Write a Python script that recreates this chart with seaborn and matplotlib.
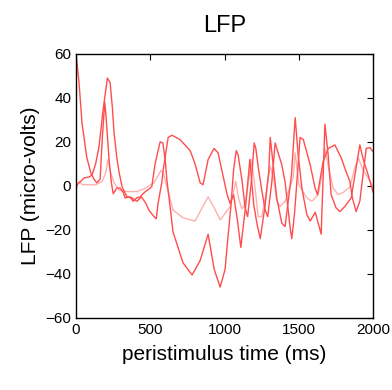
import pandas as pd
import matplotlib
matplotlib.use("Agg")
import matplotlib.pyplot as plt
import seaborn as sns

# trial 1 (starts high at stimulus onset)
t_a = [0, 20, 40, 72, 99, 121, 139, 162, 177, 193, 202, 222, 238, 250, 274, 296,
       318, 330, 363, 384, 409, 431, 460, 500, 510, 532, 566, 584, 600, 611, 653,
       720, 781, 835, 889, 930, 970, 1003, 1023, 1044, 1060, 1078, 1091, 1118,
       1138, 1155, 1180, 1199, 1210, 1226, 1250, 1273, 1290, 1318, 1340, 1385,
       1407, 1441, 1452, 1470, 1490, 1508, 1530, 1576, 1609, 1625, 1663, 1697,
       1742, 1785, 1809, 1843, 1860, 1885, 1910, 1953, 1977, 2000]
lfp_a = [60, 47, 28.6, 13, 6, 3, 1.4, 3, 22, 38, 31.5, 12, 1.4, -3.6, -1, -1,
         -3, -5.5, -5, -7, -5.5, -5, -3, -1, -0.3, 10, 20, 19.5, 12, 3, -21,
         -35, -40.5, -34, -22, -38, -46, -38, -23, -8, 7, 16, 14, 2,
         -10, -14, 2, 19.5, 17, 8.6, -2, -11, -14, 2, 19.5, 9.5,
         1.8, -19, -24, -13, 5, 22, 21, 9.5, -1, -4, 11, 17,
         18.6, 12.7, 8, 2, -5.5, -11.7, -7, 17, 17.4, 15.5]

# trial 2
t_b = [0, 7, 31, 54, 88, 108, 132, 155, 182, 211, 229, 244, 256, 274, 290, 310,
       343, 377, 410, 440, 470, 490, 525, 540, 552, 577, 586, 620, 646, 700,
       768, 801, 835, 855, 889, 929, 956, 983, 1017, 1037, 1060, 1085, 1109,
       1140, 1170, 1196, 1219, 1240, 1273, 1297, 1307, 1351, 1385, 1407, 1450,
       1475, 1495, 1520, 1553, 1576, 1610, 1650, 1675, 1697, 1717, 1750, 1776,
       1809, 1852, 1910, 1933, 1966, 2000]
lfp_b = [-2, 0.5, 2, 3.6, 4, 5, 10, 18, 34.5, 49, 47, 36, 24, 13, 6, -0.5,
         -5, -5.5, -7, -5, -8, -11, -14, -15, -8, 1.4, 7, 22, 23, 21,
         16, 10, 1.4, 0.5, 12, 17, 15, 6.5, -4, -8, -4, -15, -28,
         -10, 12, -8.6, -17.7, -24, -8.6, 6.5, 22, -5.5, -17, -18.5, 5,
         31, 14, -1, -13, -16, -12, -22, 28, 14, -4, -10, -11.7,
         -9.4, -5.5, 18.6, 12, 5, -3]

# average (light trace)
t_c = [0, 20, 43, 76, 132, 177, 200, 215, 233, 256, 290, 343, 410, 469, 525,
       572, 586, 653, 720, 801, 889, 930, 970, 1037, 1060, 1075, 1095, 1116,
       1140, 1165, 1180, 1200, 1226, 1250, 1275, 1307, 1330, 1351, 1374, 1407,
       1461, 1475, 1500, 1553, 1587, 1630, 1655, 1675, 1700, 1731, 1764, 1798,
       1843, 1876, 1900, 1933, 1966, 2000]
lfp_c = [0, 2, 0.5, 0.5, 0.5, 2, 6, 12, 6, 1.4, -2, -2.6, -2.6, -1, 1.4,
         7, 6, -11, -14.5, -16, -5, -10, -15.5, -9.5, -3, 2, -6, -10.5,
         -8, 4, 12, 2, -14, -14, -5, 9, 3, -7, -9.4, -7,
         3.6, 15, 0.5, -5.5, -7, -4, 5, 17, 8, -1, -4, -3,
         -0.5, 8, 12.7, 7, 3.6, -0.5]

x_ticks = [0, 500, 1000, 1500, 2000]
y_ticks = [-60, -40, -20, 0, 20, 40, 60]

traces = [
    (t_c, lfp_c, "#ffb0b0"),
    (t_a, lfp_a, "#ff4d4d"),
    (t_b, lfp_b, "#ff4d4d"),
]

sns.set_style("white")
plt.rcParams["font.family"] = ["Liberation Sans", "DejaVu Sans"]
plt.rcParams["text.color"] = "black"
plt.rcParams["axes.labelcolor"] = "black"

fig = plt.figure(figsize=(3.92, 3.90), dpi=100)
ax = fig.add_axes([0.194, 0.185, 0.758, 0.677])

for t, v, col in traces:
    df = pd.DataFrame({"time": t, "lfp": v})
    sns.lineplot(data=df, x="time", y="lfp", color=col, lw=1.0,
                 estimator=None, sort=False, ax=ax)

ax.set_xlim(0, 2000)
ax.set_ylim(-60, 60)
ax.set_xticks(x_ticks)
ax.set_yticks(y_ticks)
ax.tick_params(direction="in", length=4, width=0.8, top=True, right=True,
               labelsize=11, colors="black")
for s in ax.spines.values():
    s.set_visible(True)
    s.set_color("black")
    s.set_linewidth(1.0)

ax.set_title("LFP", fontsize=17, pad=16, color="black")
ax.set_xlabel("peristimulus time (ms)", fontsize=15, labelpad=6)
ax.set_ylabel("LFP (micro-volts)", fontsize=15, labelpad=4)

plt.savefig("out.png", dpi=100)
